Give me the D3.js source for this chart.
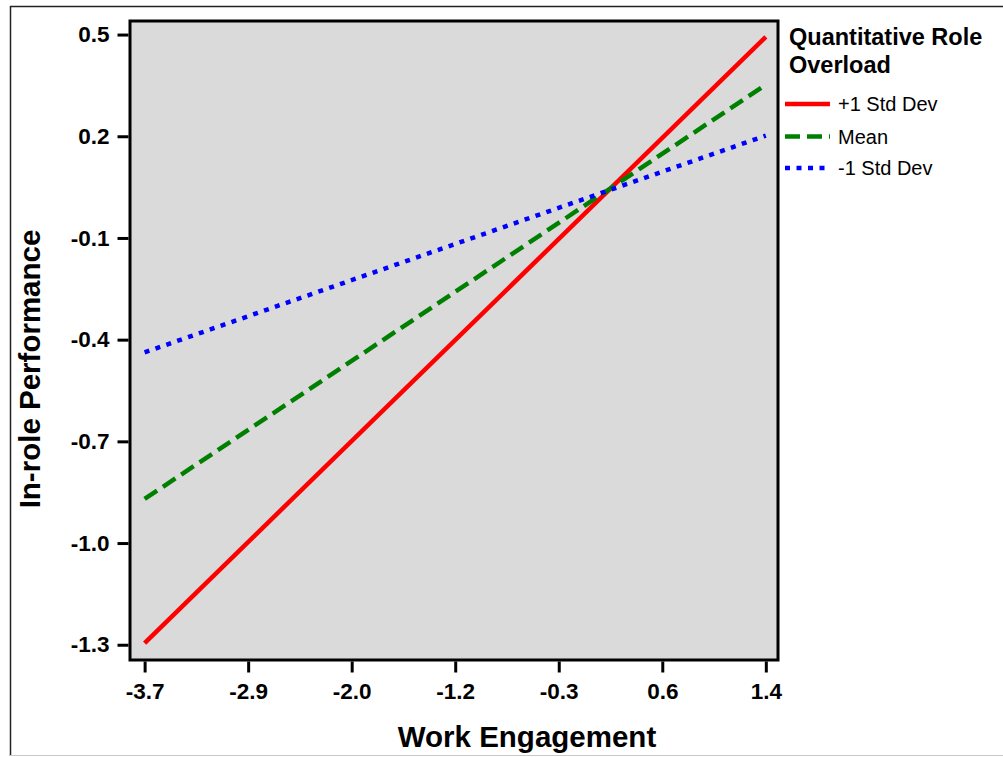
<!DOCTYPE html>
<html>
<head>
<meta charset="utf-8">
<script src="https://cdn.jsdelivr.net/npm/d3@7"></script>
<style>
  html, body { margin: 0; padding: 0; background: #fff; }
  svg { display: block; font-family: "Liberation Sans", Arial, sans-serif; }
</style>
</head>
<body>
<svg id="chart" width="1003" height="757"></svg>
<script>
// Simple slopes: In-role Performance vs Work Engagement at three levels of overload
const engagementEnds = [-3.7, 1.4];
const plusOneSD = [-1.295, 0.493];
const meanLevel = [-0.870, 0.352];
const minusOneSD = [-0.4375, 0.202];

const xTickValues = [-3.7, -2.85, -2.0, -1.15, -0.3, 0.55, 1.4];
const xTickLabels = ["-3.7", "-2.9", "-2.0", "-1.2", "-0.3", "0.6", "1.4"];
const yTickValues = [0.5, 0.2, -0.1, -0.4, -0.7, -1.0, -1.3];
const yTickLabels = ["0.5", "0.2", "-0.1", "-0.4", "-0.7", "-1.0", "-1.3"];

const seriesNames = ["+1 Std Dev", "Mean", "-1 Std Dev"];
const seriesColors = ["#ff0000", "#008000", "#0000ff"];
const seriesDash = [null, "15,7", "5,6.5"];
const seriesValues = [plusOneSD, meanLevel, minusOneSD];

const svg = d3.select("#chart");

// outer frame
svg.append("line").attr("x1", 10.5).attr("x2", 10.5).attr("y1", 6).attr("y2", 756)
  .attr("stroke", "#222").attr("stroke-width", 1.5);
svg.append("line").attr("x1", 10).attr("x2", 1003).attr("y1", 6.5).attr("y2", 6.5)
  .attr("stroke", "#222").attr("stroke-width", 1.5);
svg.append("line").attr("x1", 10).attr("x2", 1003).attr("y1", 755.5).attr("y2", 755.5)
  .attr("stroke", "#c8c8c8").attr("stroke-width", 1);

const plot = { left: 130, right: 778, top: 21, bottom: 660 };

const x = d3.scaleLinear().domain([-3.82, 1.50]).range([plot.left, plot.right]);
const y = d3.scaleLinear().domain([-1.345, 0.54]).range([plot.bottom, plot.top]);

// plot background
svg.append("rect")
  .attr("x", plot.left).attr("y", plot.top)
  .attr("width", plot.right - plot.left).attr("height", plot.bottom - plot.top)
  .attr("fill", "#dadada");

// slope lines
const line = d3.line().x(d => x(d[0])).y(d => y(d[1]));
seriesValues.forEach((vals, i) => {
  const pts = engagementEnds.map((e, j) => [e, vals[j]]);
  svg.append("path")
    .datum(pts)
    .attr("d", line)
    .attr("fill", "none")
    .attr("stroke", seriesColors[i])
    .attr("stroke-width", 4.5)
    .attr("stroke-dasharray", seriesDash[i]);
});

// frame around plot
svg.append("rect")
  .attr("x", plot.left).attr("y", plot.top)
  .attr("width", plot.right - plot.left).attr("height", plot.bottom - plot.top)
  .attr("fill", "none").attr("stroke", "#000").attr("stroke-width", 3);

// axes
const xAxis = d3.axisBottom(x)
  .tickValues(xTickValues)
  .tickFormat((d, i) => xTickLabels[i])
  .tickSize(11).tickPadding(11);
const yAxis = d3.axisLeft(y)
  .tickValues(yTickValues)
  .tickFormat((d, i) => yTickLabels[i])
  .tickSize(11).tickPadding(8);

const gx = svg.append("g").attr("transform", `translate(0,${plot.bottom + 1.5})`).call(xAxis);
const gy = svg.append("g").attr("transform", `translate(${plot.left - 1.5},0)`).call(yAxis);

[gx, gy].forEach(g => {
  g.select(".domain").remove();
  g.selectAll(".tick line").attr("stroke", "#000").attr("stroke-width", 3);
  g.selectAll(".tick text")
    .attr("fill", "#000")
    .style("font-family", "'Liberation Sans', Arial, sans-serif")
    .style("font-size", "22.5px")
    .style("font-weight", "bold");
});

// axis titles
svg.append("text")
  .attr("x", 527).attr("y", 747)
  .attr("text-anchor", "middle")
  .style("font-size", "29.5px").style("font-weight", "bold")
  .attr("fill", "#000")
  .text("Work Engagement");

svg.append("text")
  .attr("transform", "translate(40,369) rotate(-90)")
  .attr("text-anchor", "middle")
  .style("font-size", "29.5px").style("font-weight", "bold")
  .attr("fill", "#000")
  .text("In-role Performance");

// legend
const legend = svg.append("g");
legend.append("text")
  .attr("x", 789).attr("y", 45)
  .style("font-size", "23.5px").style("font-weight", "bold")
  .attr("fill", "#000")
  .text("Quantitative Role");
legend.append("text")
  .attr("x", 789).attr("y", 73)
  .style("font-size", "23.5px").style("font-weight", "bold")
  .attr("fill", "#000")
  .text("Overload");

const legendRows = [104, 136.5, 168];
seriesNames.forEach((name, i) => {
  legend.append("line")
    .attr("x1", 785).attr("x2", 830)
    .attr("y1", legendRows[i]).attr("y2", legendRows[i])
    .attr("stroke", seriesColors[i])
    .attr("stroke-width", 4.5)
    .attr("stroke-dasharray", seriesDash[i]);
  legend.append("text")
    .attr("x", 838).attr("y", legendRows[i] + 7)
    .style("font-size", "20px")
    .attr("fill", "#000")
    .text(name);
});
</script>
</body>
</html>
